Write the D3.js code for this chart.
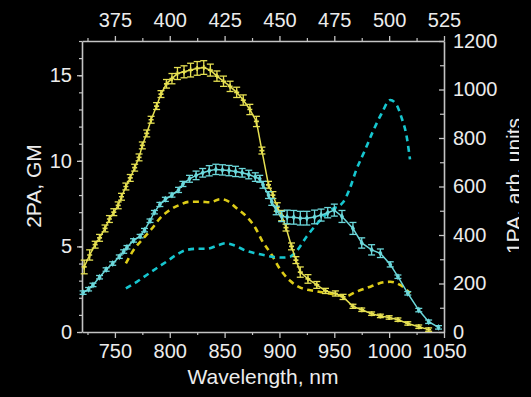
<!DOCTYPE html>
<html>
<head>
<meta charset="utf-8">
<script src="https://cdn.jsdelivr.net/npm/d3@7"></script>
<style>
  html, body { margin: 0; padding: 0; background: #000; }
  svg { display: block; font-family: "Liberation Sans", Arial, sans-serif; }
</style>
</head>
<body>
<svg id="chart" width="531" height="397"></svg>
<script>
// Two-photon absorption (left axis, GM) with error bars
const yellowWl = [722,727,732,736,741,745,749,753,756,760,764,768,772,775,779,783,788,792,797,802,807,813,819,825,831,837,843,849,855,861,867,873,879,884,890,894,898,902,906,911,915,919,926,934,942,951,958,967,975,984,992,1000,1008,1017,1027,1036];
const yellow2PA = [3.8,4.5,5.1,5.5,6.05,6.6,7.0,7.4,7.9,8.5,9.0,9.6,10.2,10.9,11.6,12.4,13.2,13.9,14.5,14.8,15.1,15.2,15.3,15.4,15.45,15.3,14.95,14.65,14.35,14.0,13.55,13.0,12.3,10.6,8.6,8.0,7.3,6.8,6.1,5.0,4.2,3.5,3.1,2.75,2.4,2.25,2.05,1.5,1.3,1.07,0.94,0.85,0.72,0.5,0.31,0.14];
const yellowErr = [0.4,0.3,0.2,0.2,0.2,0.2,0.2,0.2,0.2,0.2,0.2,0.2,0.2,0.2,0.2,0.2,0.2,0.2,0.25,0.3,0.35,0.35,0.4,0.4,0.4,0.35,0.3,0.3,0.3,0.3,0.3,0.3,0.3,0.2,0.2,0.2,0.25,0.3,0.2,0.2,0.2,0.3,0.25,0.2,0.15,0.15,0.15,0.12,0.1,0.1,0.1,0.1,0.1,0.1,0.1,0.1];

const cyanWl = [721,726,730,736,742,748,754,758,761,767,773,777,782,786,791,796,802,808,812,818,824,830,836,842,848,854,860,866,872,878,882,885,890,893,897,902,907,913,919,925,932,938,944,950,957,967,975,984,992,1001,1008,1017,1027,1036,1045];
const cyan2PA = [2.3,2.5,2.75,3.2,3.65,4.0,4.4,4.7,4.95,5.35,5.6,5.95,6.5,7.0,7.45,7.75,8.0,8.3,8.65,8.95,9.15,9.3,9.42,9.5,9.47,9.43,9.38,9.3,9.2,9.05,8.95,8.6,8.0,7.6,7.1,6.75,6.72,6.7,6.65,6.65,6.72,6.83,6.97,7.12,6.75,6.05,5.2,4.8,4.6,3.95,3.23,2.26,1.28,0.6,0.27];
const cyanErr = [0.1,0.1,0.1,0.1,0.1,0.1,0.1,0.1,0.1,0.1,0.1,0.1,0.1,0.1,0.12,0.12,0.12,0.15,0.15,0.2,0.25,0.25,0.3,0.3,0.3,0.3,0.3,0.25,0.25,0.25,0.2,0.2,0.2,0.2,0.25,0.3,0.4,0.4,0.4,0.4,0.4,0.35,0.3,0.35,0.35,0.35,0.3,0.3,0.25,0.15,0.1,0.1,0.1,0.1,0.1];

// One-photon absorption spectra (right axis, arb. units)
const yellow1PAWl = [760,767,776,784,791,800,809,818,828,837,846,853,861,870,878,884,893,900,910,919,934,950,960,970,983,995,1001,1010,1019];
const yellow1PA = [283,338,386,428,469,503,524,537,537,535,548,540,510,476,430,378,318,263,210,183,168,155,147,166,187,205,207,194,160];

const cyan1PAWl = [760,770,779,788,797,806,815,825,834,843,851,859,869,878,887,895,904,910,916,925,935,946,958,964,970,978,985,993,1001,1007,1011,1016,1019];
const cyan1PA = [180,207,235,263,290,318,338,343,343,356,366,357,336,325,316,309,307,311,336,395,450,500,535,590,668,750,825,900,957,935,888,805,712];

// Tick values
const bottomTicks = [750,800,850,900,950,1000,1050];
const bottomMinor = [725,775,825,875,925,975,1025];
const topTicks = [375,400,425,450,475,500,525];
const topMinor = [362.5,387.5,412.5,437.5,462.5,487.5,512.5];
const leftTicks = [0,5,10,15];
const leftMinor = d3.range(0,18);
const rightTicks = [0,200,400,600,800,1000,1200];
const rightMinor = [100,300,500,700,900,1100];

const W = 531, H = 397;
const svg = d3.select("#chart");
svg.append("rect").attr("width", W).attr("height", H).attr("fill", "#000");

const x = d3.scaleLinear().domain([720, 1050]).range([82, 444]);
const xTop = d3.scaleLinear().domain([360, 525]).range([82, 444]);
const yL = d3.scaleLinear().domain([0, 17]).range([332, 41]);
const yR = d3.scaleLinear().domain([0, 1200]).range([332, 41]);

const axisColor = "#c4c4c4";
const textColor = "#ececec";
const fmt = d3.format("d");

function styleAxis(g) {
  g.select(".domain").attr("stroke", axisColor).attr("stroke-width", 1.6);
  g.selectAll(".tick line").attr("stroke", axisColor).attr("stroke-width", 1.3);
  g.selectAll(".tick text").attr("fill", textColor).attr("font-size", 20)
    .attr("font-family", '"Liberation Sans", Arial, sans-serif');
}
function minor(g) {
  g.select(".domain").remove();
  g.selectAll(".tick text").remove();
  g.selectAll(".tick line").attr("stroke", axisColor).attr("stroke-width", 1.2);
}

// Minor ticks
svg.append("g").attr("transform", "translate(0,332)")
  .call(d3.axisBottom(x).tickValues(bottomMinor).tickSize(3)).call(minor);
svg.append("g").attr("transform", "translate(0,41)")
  .call(d3.axisTop(xTop).tickValues(topMinor).tickSize(3)).call(minor);
svg.append("g").attr("transform", "translate(82,0)")
  .call(d3.axisLeft(yL).tickValues(leftMinor).tickSize(3)).call(minor);
svg.append("g").attr("transform", "translate(444,0)")
  .call(d3.axisRight(yR).tickValues(rightMinor).tickSize(-4)).call(minor);

// Major axes
svg.append("g").attr("transform", "translate(0,332)")
  .call(d3.axisBottom(x).tickValues(bottomTicks).tickFormat(fmt).tickSize(6).tickSizeOuter(0).tickPadding(6))
  .call(styleAxis);
svg.append("g").attr("transform", "translate(0,41)")
  .call(d3.axisTop(xTop).tickValues(topTicks).tickFormat(fmt).tickSize(5).tickSizeOuter(0).tickPadding(9))
  .call(styleAxis);
svg.append("g").attr("transform", "translate(82,0)")
  .call(d3.axisLeft(yL).tickValues(leftTicks).tickFormat(fmt).tickSize(5).tickSizeOuter(0).tickPadding(5))
  .call(styleAxis);
svg.append("g").attr("transform", "translate(444,0)")
  .call(d3.axisRight(yR).tickValues(rightTicks).tickFormat(fmt).tickSize(-5).tickSizeOuter(0).tickPadding(9))
  .call(styleAxis);

// Axis titles
svg.append("text").attr("x", 263).attr("y", 384).attr("text-anchor", "middle")
  .attr("fill", textColor).attr("font-size", 21).text("Wavelength, nm");
svg.append("text").attr("transform", "translate(41,186) rotate(-90)").attr("text-anchor", "middle")
  .attr("fill", textColor).attr("font-size", 21).text("2PA, GM");
svg.append("clipPath").attr("id", "rclip").append("rect")
  .attr("x", 0).attr("y", 0).attr("width", 519).attr("height", H);
svg.append("g").attr("clip-path", "url(#rclip)")
  .append("text").attr("transform", "translate(521,186) rotate(-90)").attr("text-anchor", "middle")
  .attr("fill", textColor).attr("font-size", 21).text("1PA, arb. units");

// Dashed 1PA spectra
const line1PA = d3.line().x(d => x(d[0])).y(d => yR(d[1])).curve(d3.curveMonotoneX);
function dashed(wl, vals, color) {
  svg.append("path").datum(d3.zip(wl, vals))
    .attr("d", line1PA).attr("fill", "none").attr("stroke", color)
    .attr("stroke-width", 2.6).attr("stroke-dasharray", "6,4.5");
}
dashed(yellow1PAWl, yellow1PA, "#ddcc18");
dashed(cyan1PAWl, cyan1PA, "#16c6cf");

// 2PA series with error bars and markers
const line2PA = d3.line().x(d => x(d[0])).y(d => yL(d[1]));
function series(wl, vals, errs, color, symbolType, symbolSize) {
  const data = d3.zip(wl, vals, errs);
  const g = svg.append("g");
  g.append("path").datum(data).attr("d", line2PA).attr("fill", "none")
    .attr("stroke", color).attr("stroke-width", 1.5);
  const eb = g.selectAll(".eb").data(data).join("g").attr("stroke", color).attr("stroke-width", 1.3);
  eb.append("line").attr("x1", d => x(d[0])).attr("x2", d => x(d[0]))
    .attr("y1", d => yL(d[1] - d[2])).attr("y2", d => yL(d[1] + d[2]));
  eb.append("line").attr("x1", d => x(d[0]) - 3.5).attr("x2", d => x(d[0]) + 3.5)
    .attr("y1", d => yL(d[1] - d[2])).attr("y2", d => yL(d[1] - d[2]));
  eb.append("line").attr("x1", d => x(d[0]) - 3.5).attr("x2", d => x(d[0]) + 3.5)
    .attr("y1", d => yL(d[1] + d[2])).attr("y2", d => yL(d[1] + d[2]));
  g.selectAll(".mk").data(data).join("path")
    .attr("transform", d => `translate(${x(d[0])},${yL(d[1])})`)
    .attr("d", d3.symbol().type(symbolType).size(symbolSize))
    .attr("fill", color);
}
series(yellowWl, yellow2PA, yellowErr, "#e6e052", d3.symbolCross, 14);
series(cyanWl, cyan2PA, cyanErr, "#6cd8db", d3.symbolDiamond, 14);
</script>
</body>
</html>
